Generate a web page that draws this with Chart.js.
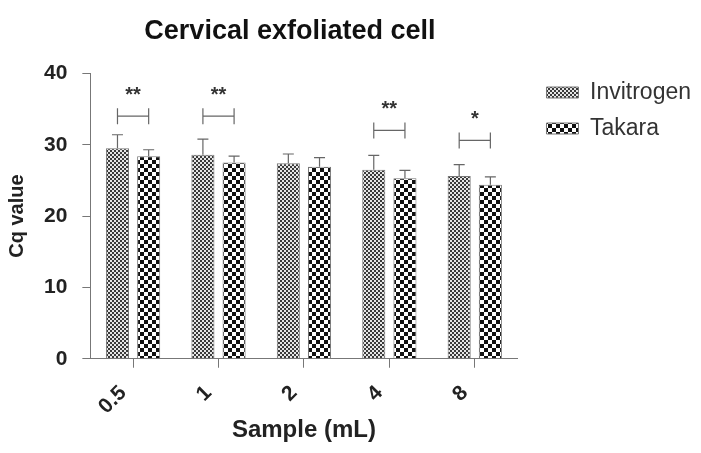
<!DOCTYPE html>
<html>
<head>
<meta charset="utf-8">
<script src="https://cdn.jsdelivr.net/npm/chart.js@4"></script>
<style>
  html, body { margin: 0; padding: 0; background: #fff; }
  #wrap { width: 701px; height: 453px; }
</style>
</head>
<body>
<div id="wrap"><canvas id="cqChart" width="701" height="453"></canvas></div>
<script>
const categories = ["0.5", "1", "2", "4", "8"];
const invitrogen = [29.5, 28.6, 27.4, 26.5, 25.6];
const takara = [28.4, 27.5, 26.9, 25.3, 24.4];
// upper error bar length (SD)
const invitrogenSd = [1.9, 2.2, 1.3, 2.0, 1.6];
const takaraSd = [0.9, 0.9, 1.3, 1.1, 1.1];
// significance marks between the two bars of a group
const sigMarks = ["**", "**", "", "**", "*"];
const sigLevel = [34.0, 34.0, null, 32.0, 30.6];
const yTicks = [0, 10, 20, 30, 40];

const FONT = "Arial, 'Liberation Sans', sans-serif";
const AXIS_GREY = "#777";
const LEGEND_SHIFT = 16;

// fine checker for Invitrogen
function finePattern() {
  const c = document.createElement("canvas");
  c.width = 4; c.height = 4;
  const g = c.getContext("2d");
  g.fillStyle = "#e6e6e6";
  g.fillRect(0, 0, 4, 4);
  g.fillStyle = "#3a3a3a";
  g.fillRect(0, 0, 2, 2);
  g.fillRect(2, 2, 2, 2);
  return g.createPattern(c, "repeat");
}

// coarse checkerboard for Takara
function coarsePattern() {
  const c = document.createElement("canvas");
  c.width = 8; c.height = 8;
  const g = c.getContext("2d");
  g.fillStyle = "#ffffff";
  g.fillRect(0, 0, 8, 8);
  g.fillStyle = "#111111";
  g.fillRect(0, 0, 4, 4);
  g.fillRect(4, 4, 4, 4);
  return g.createPattern(c, "repeat");
}

// error bars + significance brackets
const annotations = {
  id: "annotations",
  afterLayout(chart) {
    // title in the original sits a bit left of the plot centre
    chart.titleBlock.left -= 14;
    chart.titleBlock.right -= 14;
    // legend sits a bit further away from the plot
    chart.legend.left += LEGEND_SHIFT;
    chart.legend.right += LEGEND_SHIFT;
  },
  afterDatasetsDraw(chart) {
    const ctx = chart.ctx;
    const y = chart.scales.y;
    const sds = [invitrogenSd, takaraSd];
    ctx.save();
    ctx.strokeStyle = "#666";
    ctx.lineWidth = 1.2;
    [0, 1].forEach(function (di) {
      const meta = chart.getDatasetMeta(di);
      meta.data.forEach(function (bar, i) {
        const value = chart.data.datasets[di].data[i];
        const top = y.getPixelForValue(value + sds[di][i]);
        ctx.beginPath();
        ctx.moveTo(bar.x, bar.y);
        ctx.lineTo(bar.x, top);
        ctx.moveTo(bar.x - 5.5, top);
        ctx.lineTo(bar.x + 5.5, top);
        ctx.stroke();
      });
    });

    const m0 = chart.getDatasetMeta(0).data;
    const m1 = chart.getDatasetMeta(1).data;
    sigMarks.forEach(function (mark, i) {
      if (!mark) return;
      const yy = y.getPixelForValue(sigLevel[i]);
      const x0 = m0[i].x, x1 = m1[i].x;
      ctx.strokeStyle = "#666";
      ctx.beginPath();
      ctx.moveTo(x0, yy); ctx.lineTo(x1, yy);
      ctx.moveTo(x0, yy - 8); ctx.lineTo(x0, yy + 8);
      ctx.moveTo(x1, yy - 8); ctx.lineTo(x1, yy + 8);
      ctx.stroke();
      ctx.fillStyle = "#333";
      ctx.font = "bold 20px " + FONT;
      ctx.textAlign = "center";
      ctx.textBaseline = "middle";
      ctx.fillText(mark, (x0 + x1) / 2, yy - 21);
    });
    ctx.restore();
  }
};

new Chart(document.getElementById("cqChart"), {
  type: "bar",
  data: {
    labels: categories,
    datasets: [
      {
        label: "Invitrogen",
        data: invitrogen,
        backgroundColor: finePattern(),
        borderColor: AXIS_GREY,
        borderWidth: 1
      },
      {
        label: "Takara",
        data: takara,
        backgroundColor: coarsePattern(),
        borderColor: AXIS_GREY,
        borderWidth: 1
      }
    ]
  },
  options: {
    responsive: false,
    animation: false,
    devicePixelRatio: 1,
    layout: { padding: { left: 5, right: LEGEND_SHIFT, top: 0, bottom: 8 } },
    datasets: { bar: { categoryPercentage: 0.73, barPercentage: 0.74 } },
    scales: {
      x: {
        grid: { display: true, drawOnChartArea: false, offset: false, tickLength: 9, color: AXIS_GREY },
        border: { display: true, color: AXIS_GREY, width: 1 },
        ticks: {
          minRotation: 45, maxRotation: 45, padding: 13, labelOffset: -10,
          color: "#222", font: { family: FONT, size: 21, weight: "bold" }
        },
        title: {
          display: true, text: "Sample (mL)", color: "#222",
          font: { family: FONT, size: 24, weight: "bold" }, padding: { top: -16, bottom: 0 }
        }
      },
      y: {
        min: 0, max: 40,
        afterBuildTicks(axis) { axis.ticks = yTicks.map(v => ({ value: v })); },
        grid: { display: true, drawOnChartArea: false, tickLength: 8, color: AXIS_GREY },
        border: { display: true, color: AXIS_GREY, width: 1 },
        ticks: {
          padding: 15, color: "#222", font: { family: FONT, size: 21, weight: "bold" }
        },
        title: {
          display: true, text: "Cq value", color: "#222",
          font: { family: FONT, size: 20, weight: "bold" }, padding: { top: 0, bottom: 0 }
        }
      }
    },
    plugins: {
      title: {
        display: true, fullSize: false, text: "Cervical exfoliated cell", color: "#111",
        font: { family: FONT, size: 27, weight: "bold" }, padding: { top: 15, bottom: 26 }
      },
      legend: {
        position: "right", align: "start",
        title: { display: true, text: "", font: { size: 10, lineHeight: 1.2 }, padding: { top: 56, bottom: 0 } },
        labels: {
          boxWidth: 32, boxHeight: 11, padding: 13, color: "#333",
          font: { family: FONT, size: 23 }
        }
      },
      tooltip: { enabled: false }
    }
  },
  plugins: [annotations]
});
</script>
</body>
</html>
